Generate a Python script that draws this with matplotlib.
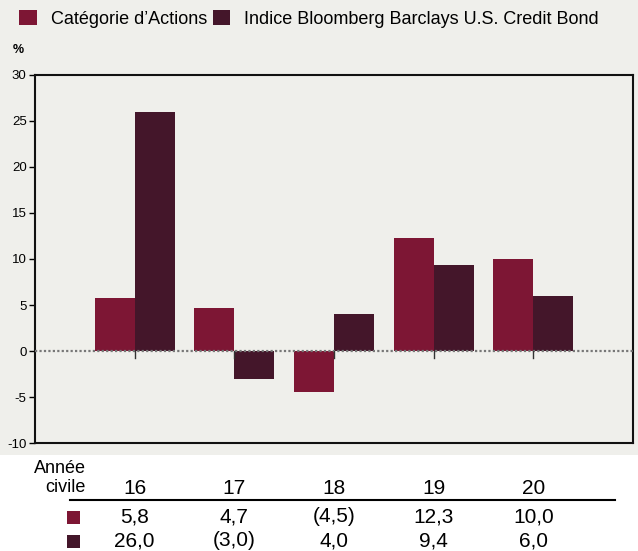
import matplotlib.pyplot as plt
import matplotlib.transforms as mtransforms
from matplotlib.patches import Rectangle
import numpy as np

plt.rcParams['font.family'] = ['Liberation Sans Narrow', 'Liberation Sans', 'DejaVu Sans']
plt.rcParams['axes.unicode_minus'] = False

annees = ["16", "17", "18", "19", "20"]
actions = [5.8, 4.7, -4.5, 12.3, 10.0]
indice = [26.0, -3.0, 4.0, 9.4, 6.0]
noms = ["Catégorie d’Actions", "Indice Bloomberg Barclays U.S. Credit Bond"]
couleurs = ["#7D1634", "#44162A"]
fond = "#EFEFEB"


def fmt(v):
    s = f"{abs(v):.1f}".replace(".", ",")
    return f"({s})" if v < 0 else s


fig = plt.figure(figsize=(6.38, 5.51), dpi=100)
fig.patches.append(Rectangle((0, 1 - 455 / 551), 1, 455 / 551, transform=fig.transFigure,
                             facecolor=fond, edgecolor="none", zorder=-10))

ax = fig.add_axes([35 / 638, 1 - 443 / 551, (633 - 35) / 638, (443 - 75) / 551])
ax.set_facecolor(fond)

x = np.arange(1, len(annees) + 1)
w = 0.4
ax.bar(x - w / 2, actions, w, color=couleurs[0], label=noms[0], zorder=2)
ax.bar(x + w / 2, indice, w, color=couleurs[1], label=noms[1], zorder=2)

ax.axhline(0, color="#777777", lw=1.6, ls=(0, (1, 1)), zorder=3)
for xi in x:
    ax.plot([xi, xi], [0, -0.8], color="#333333", lw=1, zorder=3)

ax.set_xlim(0, 6)
ax.set_ylim(-10, 30)
ax.set_yticks(range(-10, 31, 5))
ax.set_xticks([])
ax.tick_params(axis="y", labelsize=9.5, length=4, width=1, pad=2)
for s in ax.spines.values():
    s.set_linewidth(1.5)
    s.set_color("#111111")

fig.text(13 / 638, 1 - 50 / 551, "%", fontsize=9, fontweight="bold", va="center")

fig.legend(loc="upper left", bbox_to_anchor=(0.005, 1.012), ncol=2, frameon=False,
           fontsize=13, handlelength=0.95, handleheight=0.95, handletextpad=0.8,
           columnspacing=0.3)

# tableau sous le graphique
trans = mtransforms.blended_transform_factory(ax.transData, fig.transFigure)
y_an = 1 - 488 / 551
y_r1 = 1 - 517 / 551
y_r2 = 1 - 541 / 551
fig.text(86 / 638, 1 - 478 / 551, "Année\ncivile", ha="right", va="center",
         fontsize=13, linespacing=1.15)
for i, xi in enumerate(x):
    fig.text(xi, y_an, annees[i], transform=trans, ha="center", va="center", fontsize=15)
    fig.text(xi, y_r1, fmt(actions[i]), transform=trans, ha="center", va="center", fontsize=15)
    fig.text(xi, y_r2, fmt(indice[i]), transform=trans, ha="center", va="center", fontsize=15)
fig.add_artist(plt.Line2D([70 / 638, 615 / 638], [1 - 500 / 551] * 2,
                          transform=fig.transFigure, color="black", lw=1.5))
for yy, c in [(y_r1, couleurs[0]), (y_r2, couleurs[1])]:
    fig.patches.append(Rectangle((67 / 638, yy - 6.5 / 551), 13 / 638, 13 / 551,
                                 transform=fig.transFigure, facecolor=c, edgecolor="none"))

fig.savefig("out.png", dpi=100)
